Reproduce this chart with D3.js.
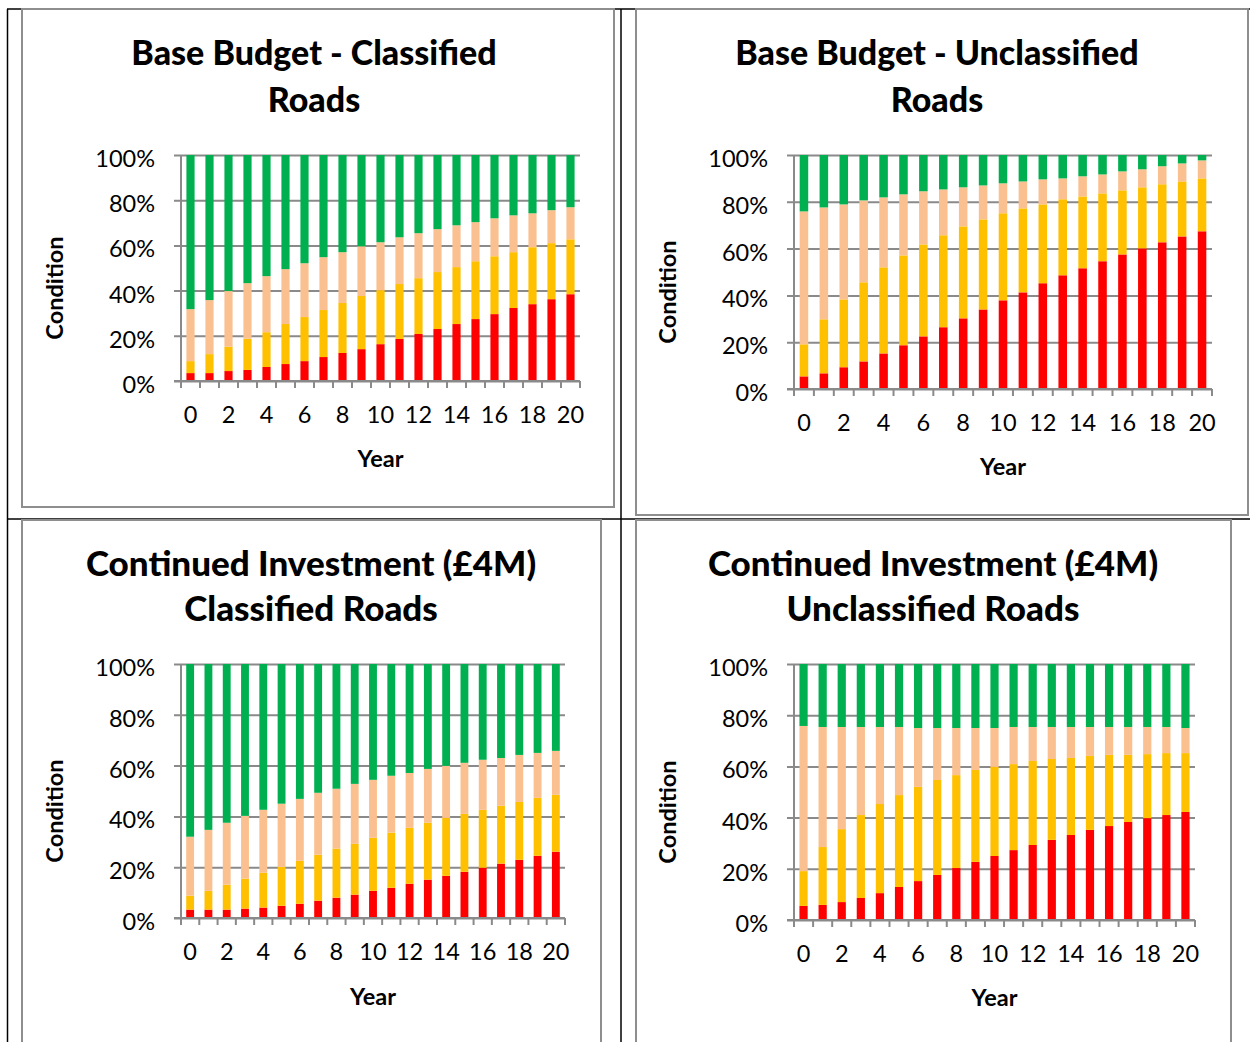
<!DOCTYPE html>
<html>
<head>
<meta charset="utf-8">
<script src="https://cdn.jsdelivr.net/npm/d3@7"></script>
<style>
	body { margin: 0; background: #fff; }
	svg text { font-family: Lato, "Open Sans", sans-serif; fill: #000; }
</style>
</head>
<body>
<div id="chartDiv"></div>
<script>
var years = d3.range(0, 21);
var tickYears = [0, 2, 4, 6, 8, 10, 12, 14, 16, 18, 20];
var pctTicks = [0, 0.2, 0.4, 0.6, 0.8, 1];
var bands = ["red", "amber", "lightAmber", "green"];
var bandColors = ["#ff0000", "#ffc000", "#fac090", "#00b050"];

// percentage of network in each condition band, year 0..20
var baseClassRed = [3.5, 3.5, 4.4, 4.9, 6.2, 7.5, 8.8, 10.6, 12.4, 14.1, 16.3, 18.6, 20.8, 23.0, 25.2, 27.4, 29.6, 32.3, 34.0, 36.2, 38.4];
var baseClassAmber = [5.3, 8.4, 10.8, 13.8, 15.4, 17.7, 19.5, 20.8, 22.1, 23.5, 23.9, 24.3, 24.7, 25.2, 25.2, 25.6, 25.6, 24.7, 25.2, 24.8, 24.3];
var baseClassLight = [23.0, 23.9, 24.6, 24.6, 24.8, 24.3, 23.8, 23.4, 22.5, 22.0, 21.2, 20.7, 19.9, 19.0, 18.5, 17.3, 16.8, 16.3, 15.0, 14.6, 14.2];
var baseClassGreen = [68.2, 64.2, 60.2, 56.7, 53.6, 50.5, 47.9, 45.2, 43.0, 40.4, 38.6, 36.4, 34.6, 32.8, 31.1, 29.7, 28.0, 26.7, 25.8, 24.4, 23.1];

var baseUnclRed = [5.4, 6.7, 9.3, 11.8, 15.2, 18.7, 22.5, 26.4, 30.2, 34.0, 37.9, 41.3, 45.2, 48.6, 51.6, 54.6, 57.5, 60.1, 62.7, 65.2, 67.4];
var baseUnclAmber = [13.7, 23.1, 29.0, 33.8, 36.8, 38.4, 39.3, 39.3, 39.3, 38.5, 37.2, 35.9, 33.7, 32.5, 30.7, 29.0, 27.4, 26.1, 24.8, 23.5, 22.6];
var baseUnclLight = [56.8, 47.8, 40.6, 35.0, 29.9, 26.1, 22.7, 19.6, 16.7, 14.5, 12.8, 11.5, 10.7, 8.9, 8.6, 8.1, 8.1, 7.7, 7.7, 7.7, 7.7];
var baseUnclGreen = [24.1, 22.4, 21.1, 19.4, 18.1, 16.8, 15.5, 14.7, 13.8, 13.0, 12.1, 11.3, 10.4, 10.0, 9.1, 8.3, 7.0, 6.1, 4.8, 3.6, 2.3];

var invClassRed = [3.3, 3.3, 3.3, 3.7, 4.1, 4.8, 5.6, 6.8, 8.0, 9.2, 10.7, 11.9, 13.5, 15.1, 16.6, 18.2, 19.8, 21.4, 22.9, 24.5, 26.1];
var invClassAmber = [5.5, 7.4, 9.8, 11.8, 13.7, 15.4, 16.9, 18.1, 19.3, 20.0, 20.9, 21.7, 22.0, 22.4, 22.8, 22.8, 22.8, 22.8, 22.8, 22.8, 22.4];
var invClassLight = [23.2, 24.0, 24.4, 24.7, 24.8, 24.8, 24.4, 24.4, 23.6, 23.6, 22.8, 22.4, 21.6, 21.2, 20.5, 20.1, 19.7, 18.8, 18.5, 17.7, 17.3];
var invClassGreen = [68.0, 65.3, 62.5, 59.8, 57.4, 55.0, 53.1, 50.7, 49.1, 47.2, 45.6, 44.0, 42.9, 41.3, 40.1, 38.9, 37.7, 37.0, 35.8, 35.0, 34.2];

var invUnclRed = [5.5, 5.9, 7.0, 8.6, 10.5, 12.9, 15.2, 17.6, 20.3, 22.7, 25.0, 27.3, 29.3, 31.3, 33.2, 35.2, 36.7, 38.3, 39.8, 41.0, 42.2];
var invUnclAmber = [13.6, 22.6, 28.5, 32.4, 34.8, 35.9, 36.8, 37.1, 36.3, 35.9, 34.8, 33.6, 32.8, 31.6, 30.1, 28.9, 27.8, 26.2, 25.0, 24.2, 23.0];
var invUnclLight = [56.7, 46.9, 39.9, 34.4, 30.1, 26.6, 23.0, 20.3, 18.4, 16.4, 15.2, 14.5, 13.3, 12.5, 12.1, 11.3, 10.9, 10.9, 10.6, 10.2, 9.8];
var invUnclGreen = [24.2, 24.6, 24.6, 24.6, 24.6, 24.6, 25.0, 25.0, 25.0, 25.0, 25.0, 24.6, 24.6, 24.6, 24.6, 24.6, 24.6, 24.6, 24.6, 24.6, 25.0];

var W = 1250, H = 1042;
var svg = d3.select("#chartDiv").append("svg").attr("width", W).attr("height", H);

// table grid lines (document behind the charts)
var grid = svg.append("g").attr("stroke", "#000").attr("stroke-width", 1.5);
grid.append("line").attr("x1", 7.5).attr("x2", 7.5).attr("y1", 9).attr("y2", H);
grid.append("line").attr("x1", 621).attr("x2", 621).attr("y1", 9).attr("y2", H);
grid.append("line").attr("x1", 7).attr("x2", W).attr("y1", 519).attr("y2", 519);
grid.append("line").attr("x1", 7).attr("x2", W).attr("y1", 9).attr("y2", 9);

var charts = [
	{ box: [22, 9, 614, 507], title: ["Base Budget - Classified", "Roads"], titleX: 314, titleY: [53, 100], titleSize: 34,
	  plot: [181, 580, 155, 381], series: [baseClassRed, baseClassAmber, baseClassLight, baseClassGreen],
	  yearY: 459, condX: 55 },
	{ box: [636, 9, 1248, 515], title: ["Base Budget - Unclassified", "Roads"], titleX: 937, titleY: [53, 100], titleSize: 34,
	  plot: [794, 1212, 155, 389], series: [baseUnclRed, baseUnclAmber, baseUnclLight, baseUnclGreen],
	  yearY: 467, condX: 668 },
	{ box: [22, 520, 601, 1060], title: ["Continued Investment (\u00a34M)", "Classified Roads"], titleX: 311, titleY: [564, 609], titleSize: 35,
	  plot: [181, 565, 664, 918], series: [invClassRed, invClassAmber, invClassLight, invClassGreen],
	  yearY: 997, condX: 55 },
	{ box: [636, 520, 1231, 1060], title: ["Continued Investment (\u00a34M)", "Unclassified Roads"], titleX: 933, titleY: [564, 609], titleSize: 35,
	  plot: [794, 1195, 664, 920], series: [invUnclRed, invUnclAmber, invUnclLight, invUnclGreen],
	  yearY: 998, condX: 668 }
];

charts.forEach(function(c) { drawChart(c); });

function drawChart(c) {
	var g = svg.append("g");

	g.append("rect")
		.attr("x", c.box[0]).attr("y", c.box[1])
		.attr("width", c.box[2] - c.box[0]).attr("height", c.box[3] - c.box[1])
		.attr("fill", "#fff").attr("stroke", "#8e8e8e").attr("stroke-width", 2);

	g.selectAll("text.title").data(c.title).enter().append("text")
		.attr("class", "title")
		.attr("x", c.titleX).attr("y", function(d, i) { return c.titleY[i]; })
		.attr("dy", "0.35em").attr("text-anchor", "middle")
		.style("font-size", c.titleSize + "px").style("font-weight", "900")
		.text(function(d) { return d; });

	var p = 0.57;
	var x = d3.scaleBand().domain(years).range([c.plot[0], c.plot[1]])
		.paddingInner(p).paddingOuter(p / 2);
	var y = d3.scaleLinear().domain([0, 1]).range([c.plot[3], c.plot[2]]);
	var step = x.step();

	// gridlines + y axis
	var yAxis = d3.axisLeft(y).tickValues(pctTicks).tickFormat(d3.format(".0%"))
		.tickSize(-(c.plot[1] - c.plot[0]));
	var ya = g.append("g").attr("transform", "translate(" + c.plot[0] + ",0)").call(yAxis);
	ya.select(".domain").remove();
	ya.selectAll(".tick line").attr("stroke", "#8a8a8a").attr("stroke-width", 2).attr("x1", -7);
	ya.selectAll(".tick text").style("font-size", "23.5px").attr("x", -26).attr("y", 3).attr("dy", "0.36em");

	// stacked bars
	var rows = years.map(function(yr, i) {
		var r = { year: yr };
		bands.forEach(function(b, k) { r[b] = c.series[k][i] / 100; });
		return r;
	});
	var stacked = d3.stack().keys(bands)(rows);
	g.selectAll("g.layer").data(stacked).enter().append("g")
		.attr("class", "layer")
		.attr("fill", function(d, i) { return bandColors[i]; })
		.selectAll("rect").data(function(d) { return d; }).enter().append("rect")
		.attr("x", function(d) { return x(d.data.year); })
		.attr("width", x.bandwidth())
		.attr("y", function(d) { return y(Math.min(1, d[1])); })
		.attr("height", function(d) { return y(d[0]) - y(Math.min(1, d[1])); });

	// axis lines
	g.append("line").attr("x1", c.plot[0]).attr("x2", c.plot[0])
		.attr("y1", c.plot[2]).attr("y2", c.plot[3])
		.attr("stroke", "#8a8a8a").attr("stroke-width", 2);
	g.append("line").attr("x1", c.plot[0] - 7).attr("x2", c.plot[1])
		.attr("y1", c.plot[3]).attr("y2", c.plot[3])
		.attr("stroke", "#8a8a8a").attr("stroke-width", 2);

	// category tick marks between bars
	var bounds = years.map(function(yr) { return x(yr) - step * p / 2; }).concat([c.plot[1]]);
	g.selectAll("line.xt").data(bounds).enter().append("line")
		.attr("class", "xt")
		.attr("x1", function(d) { return d; }).attr("x2", function(d) { return d; })
		.attr("y1", c.plot[3]).attr("y2", c.plot[3] + 7)
		.attr("stroke", "#8a8a8a").attr("stroke-width", 2);

	g.selectAll("text.xl").data(tickYears).enter().append("text")
		.attr("class", "xl")
		.attr("x", function(d) { return x(d) + x.bandwidth() / 2; })
		.attr("y", c.plot[3] + 34)
		.attr("dy", "0.35em")
		.attr("text-anchor", "middle")
		.style("font-size", "23.5px")
		.text(function(d) { return d; });

	g.append("text")
		.attr("x", (c.plot[0] + c.plot[1]) / 2).attr("y", c.yearY)
		.attr("dy", "0.35em").attr("text-anchor", "middle")
		.style("font-size", "23.5px").style("font-weight", "bold")
		.text("Year");

	g.append("text")
		.attr("transform", "translate(" + c.condX + "," + ((c.plot[2] + c.plot[3]) / 2 + 20) + ") rotate(-90)")
		.attr("dy", "0.35em").attr("text-anchor", "middle")
		.style("font-size", "23.5px").style("font-weight", "bold")
		.text("Condition");
}
</script>
</body>
</html>
